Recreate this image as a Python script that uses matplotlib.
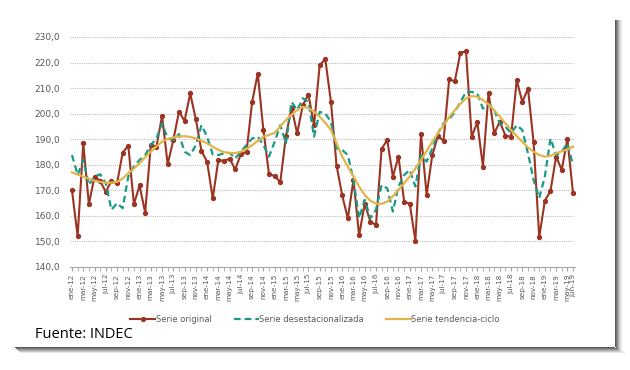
import matplotlib.pyplot as plt
from matplotlib.patches import Rectangle

# meses ene-12 .. jun-19
meses = ['ene', 'feb', 'mar', 'abr', 'may', 'jun', 'jul', 'ago', 'sep', 'oct', 'nov', 'dic']
labels = [f'{m}-{a}' for a in range(12, 20) for m in meses][:90]

original = [170.0, 152.0, 188.4, 164.6, 175.4, 173.7, 169.3, 173.8, 172.7, 184.7, 187.5, 164.6,
            171.9, 161.3, 187.7, 187.1, 199.1, 180.2, 189.7, 200.7, 197.2, 207.9, 197.8, 185.4,
            181.2, 166.9, 181.9, 181.5, 182.4, 178.2, 184.2, 185.0, 204.6, 215.7, 193.6, 176.3,
            175.6, 173.2, 191.2, 202.3, 192.3, 203.3, 207.5, 195.5, 219.0, 221.3, 204.6, 179.7,
            168.0, 159.0, 174.1, 152.4, 164.7, 157.8, 156.4, 186.2, 189.7, 175.4, 183.2, 165.6,
            164.7, 150.3, 192.0, 168.2, 183.8, 191.2, 189.4, 213.4, 212.7, 223.9, 224.4, 191.0,
            196.6, 179.3, 208.2, 192.3, 196.8, 191.4, 191.0, 213.1, 204.6, 209.8, 188.8, 151.7,
            165.9, 169.8, 183.2, 178.0, 190.1, 168.9]

desest = [183.8, 176.0, 181.9, 172.1, 175.4, 176.3, 172.8, 162.4, 165.0, 163.0, 175.4, 179.3,
          181.9, 183.8, 187.7, 190.3, 196.2, 190.3, 189.7, 192.0, 185.1, 183.8, 187.7, 195.5,
          191.0, 184.0, 183.8, 184.5, 184.7, 182.5, 185.1, 187.7, 190.3, 191.0, 187.7, 183.2,
          189.0, 195.5, 188.4, 204.6, 201.4, 206.0, 204.6, 191.0, 200.7, 200.1, 196.8, 186.4,
          185.8, 183.8, 174.1, 159.1, 166.3, 159.1, 162.4, 172.1, 170.8, 161.7, 171.5, 176.0,
          178.0, 171.5, 183.8, 181.2, 186.4, 192.3, 196.2, 197.8, 200.7, 204.6, 208.5, 208.5,
          207.9, 202.0, 204.0, 201.4, 196.2, 194.9, 192.3, 195.5, 193.6, 184.5, 174.1, 167.0,
          175.4, 190.3, 183.8, 185.1, 188.4, 179.9]

tendencia = [177.0, 176.2, 175.4, 174.5, 173.8, 173.3, 173.0, 173.0, 173.3, 174.6, 176.7, 178.5,
             180.6, 183.0, 185.1, 187.2, 189.0, 190.1, 190.7, 191.1, 191.2, 190.9, 190.3, 189.4,
             188.4, 187.1, 185.8, 185.0, 184.5, 184.6, 185.1, 186.2, 187.7, 189.3, 191.0, 191.7,
             192.5, 195.0, 197.5, 199.6, 201.4, 202.7, 202.2, 200.8, 198.8, 196.4, 193.6, 188.5,
             183.2, 179.2, 175.4, 171.5, 168.2, 165.9, 164.8, 164.7, 165.6, 167.7, 170.2, 172.8,
             175.4, 178.6, 181.9, 185.4, 189.0, 192.3, 195.5, 198.6, 201.4, 203.9, 206.0, 206.9,
             206.6, 205.3, 203.7, 201.3, 198.8, 196.2, 193.6, 191.2, 189.0, 186.8, 185.1, 183.8,
             183.2, 183.5, 184.5, 185.3, 186.0, 187.1]

x = list(range(len(original)))
gris = '#595959'
narrow = ['Liberation Sans Narrow', 'DejaVu Sans']

fig = plt.figure(figsize=(6.3, 3.7), dpi=100)
fig.patch.set_facecolor('white')

# sombra del recuadro
for k in range(6):
    c = str(0.35 + 0.11 * k)
    fig.patches.append(Rectangle(((615 + k) / 630, 1 - (347 + k) / 370), 1.5 / 630, (327 + k) / 370,
                                 transform=fig.transFigure, color=c, lw=0, zorder=0))
    fig.patches.append(Rectangle(((15 + k) / 630, 1 - (348 + k) / 370), (600 + k) / 630, 1.5 / 370,
                                 transform=fig.transFigure, color=c, lw=0, zorder=0))

ax = fig.add_axes([70 / 630, 1 - 267 / 370, 505 / 630, 230 / 370])

ax.plot(x, original, color='#9B3423', lw=1.5, marker='o', ms=2.8, label='Serie original', zorder=3)
ax.plot(x, desest, color='#1A9985', lw=1.6, ls=(0, (3, 1.8)), label='Serie desestacionalizada', zorder=4)
ax.plot(x, tendencia, color='#E2B54A', lw=1.6, label='Serie tendencia-ciclo', zorder=5)

ax.set_xlim(-0.355, 89.355)
ax.set_ylim(140, 230)
ax.set_yticks(range(140, 231, 10))
ax.set_yticklabels([f'{v:.1f}'.replace('.', ',') for v in range(140, 231, 10)])
ax.grid(axis='y', ls=(0, (1, 1)), color='#BFBFBF', lw=0.8)
ax.set_axisbelow(True)

pos = list(range(0, 90, 2)) + [89]
ax.set_xticks(x, minor=True)
ax.set_xticks(pos)
ax.set_xticklabels([labels[i] for i in pos], rotation=90, fontsize=5.2, color=gris, family=narrow)
ax.tick_params(axis='x', which='both', length=3, color='#A6A6A6', pad=2)
ax.tick_params(axis='y', length=0, labelsize=6.5, labelcolor=gris, pad=7)

for s in ['top', 'right', 'left']:
    ax.spines[s].set_visible(False)
ax.spines['bottom'].set_color('#A6A6A6')

fig.legend(loc='center', bbox_to_anchor=(315 / 630, 1 - 319 / 370), ncol=3, frameon=False,
           handlelength=3.0, handletextpad=0.1, columnspacing=2.6, labelcolor=gris,
           prop={'family': narrow, 'size': 6})

fig.text(35 / 630, 1 - 334 / 370, 'Fuente: INDEC', fontsize=10.5, va='center', family='Open Sans')

fig.savefig('out.png', dpi=100)
